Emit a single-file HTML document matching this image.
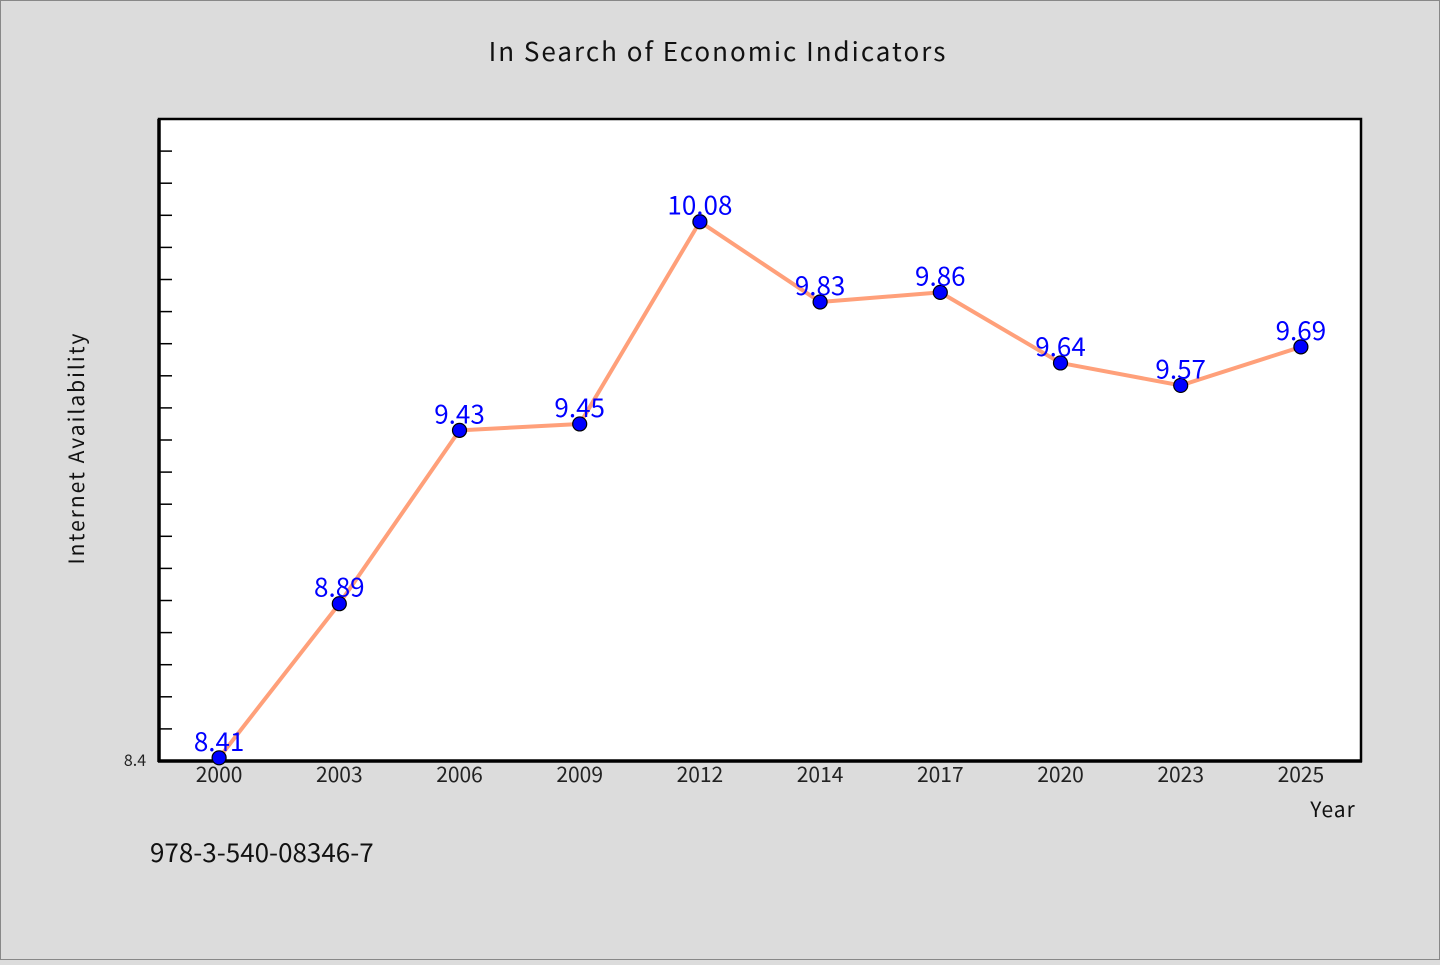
<!DOCTYPE html>
<html><head><meta charset="utf-8">
<style>
body{margin:0;background:#dcdcdc;}
svg text{font-family:"WenQuanYi Zen Hei","Noto Sans CJK SC",sans-serif;}
</style></head>
<body>
<svg width="1440" height="960" xmlns="http://www.w3.org/2000/svg">
<rect x="0.5" y="0.5" width="1439" height="959" fill="#dcdcdc" stroke="#888"/>
<text x="718" y="61" text-anchor="middle" font-size="26" letter-spacing="2" fill="#111">In Search of Economic Indicators</text>
<rect x="159" y="119" width="1202" height="642" fill="#fff" stroke="#000" stroke-width="2.5"/>
<g id="ticks"></g>
<line x1="159" y1="119" x2="159" y2="762" stroke="#000" stroke-width="3.5"/>
<line x1="158" y1="761" x2="1362" y2="761" stroke="#000" stroke-width="3.5"/>
<text x="135" y="766" text-anchor="middle" font-size="16" fill="#222">8.4</text>
<text transform="translate(84,448) rotate(-90)" text-anchor="middle" font-size="21" letter-spacing="2" fill="#111">Internet Availability</text>
<text x="1333" y="817" text-anchor="middle" font-size="21" letter-spacing="1" fill="#111">Year</text>
<text x="150" y="862" font-size="26" fill="#111">978-3-540-08346-7</text>
<g id="xlabels"></g>
<polyline id="line" fill="none" stroke="#ffa07a" stroke-width="4" stroke-linejoin="round"/>
<g id="points"></g>
</svg>
<script>
const categories=["2000","2003","2006","2009","2012","2014","2017","2020","2023","2025"];
const values=[8.41,8.89,9.43,9.45,10.08,9.83,9.86,9.64,9.57,9.69];
const yMin=8.4, yMax=10.4;
const NS="http://www.w3.org/2000/svg";
const L=159,R=1361,T=119,B=761;
const bw=(R-L)/categories.length;
function x(i){return L+bw*(i+0.5);}
function y(v){return B-(v-yMin)/(yMax-yMin)*(B-T);}
function mk(t,a,p){const e=document.createElementNS(NS,t);for(const k in a)e.setAttribute(k,a[k]);p.appendChild(e);return e;}
const tg=document.getElementById('ticks');
for(let k=1;k<20;k++){const v=yMin+k*0.1;const l=mk('line',{x1:L,x2:L+13,y1:y(v),y2:y(v),stroke:'#000','stroke-width':1.5},tg);

}
const xg=document.getElementById('xlabels');
categories.forEach((c,i)=>{const t=mk('text',{x:x(i),y:782,'text-anchor':'middle','font-size':21,fill:'#222'},xg);t.textContent=c;

});
document.getElementById('line').setAttribute('points',values.map((v,i)=>x(i)+','+y(v)).join(' '));
const pg=document.getElementById('points');
values.forEach((v,i)=>{const c=mk('circle',{cx:x(i),cy:y(v),r:7,fill:'#0000ff',stroke:'#000','stroke-width':1.2},pg);


const t=mk('text',{x:x(i),y:y(v)-7,'text-anchor':'middle','font-size':26,fill:'#0000ff'},pg);t.textContent=v.toFixed(2);

});
</script>
</body></html>
